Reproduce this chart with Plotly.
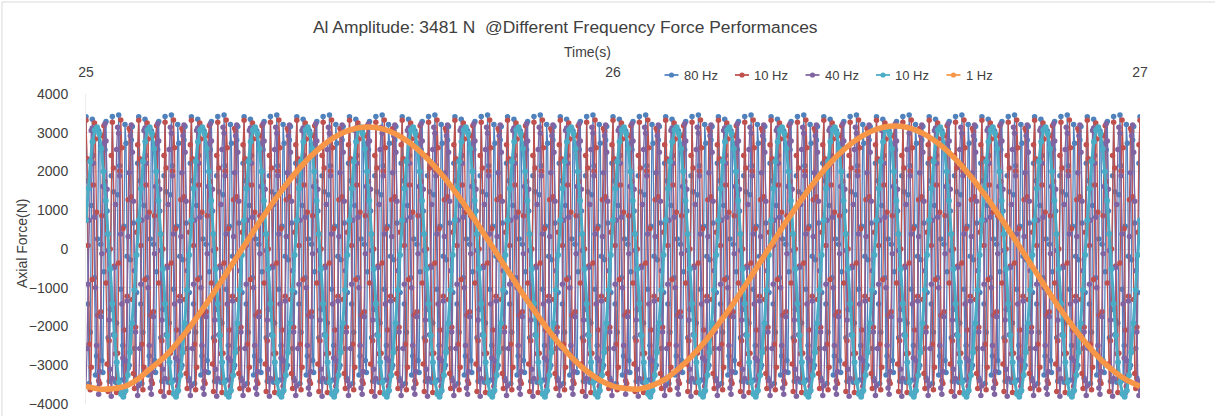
import plotly.graph_objects as go

# ---------------- data ----------------
T_START = 25.0
T_END = 27.0
X_TICKS = [25, 26, 27]
Y_TICKS = [-4000, -3000, -2000, -1000, 0, 1000, 2000, 3000, 4000]

series_names = ["80 Hz", "10 Hz", "40 Hz", "10 Hz", "1 Hz"]
series_colors = ["#4F81BD", "#C0504D", "#8064A2", "#4BACC6", "#F79646"]

# 80 Hz force samples, repeating 8-cycle block (sample step 0.002 s)
f80_dt = 0.002
f80_block = [3410, 1760, -1420, -3470, -2150, 1120, 3350, 2410, -740, -3250,
             -2760, 260, 3050, 2940, 120, -2880, -3190, -590, 2560, 3290,
             980, -2290, -3410, -1560, 1890,
             3420, 1480, -1830, -3440, -1910, 1400, 3460, 2150, -1040, -3380,
             -2490, 590, 3210, 2730, -190, -3080, -3000, -280, 2810, 3160,
             670, -2570, -3330, -1120, 2210]

# second series (red) force samples, repeating 6-cycle block (sample step 0.002 s)
red_dt = 0.002
red_block = [3320, 2330, 90, -2460, -3630, -3050, -790, 1650, 3250, 2840,
             950, -1710, -3400, -3470, -1620, 860, 2920, 3180, 1740, -880,
             -2970, -3680, -2370, 0, 2410,
             3270, 2090, -440, -2700, -3700, -2690, -360, 2010, 3330, 2610,
             520, -2090, -3540, -3280, -1220, 1270, 3110, 3040, 1350, -1300,
             -3210, -3600, -2020, 430, 2690]

# 40 Hz force samples, repeating 4-cycle block (sample step 0.002 s)
f40_dt = 0.002
f40_block = [-3530, -2570, -910, 740, 2290, 3060, 3120, 2210, 820, -1000,
             -2490, -3590, -3750, -3160, -1750, -120, 1610, 2730, 3230, 2790,
             1540, -40, -1830, -3100, -3800,
             -3340, -2210, -480, 1150, 2570, 3140, 2990, 1890, 390, -1420,
             -2810, -3720, -3660, -2890, -1340, 320, 1970, 2920, 3200, 2500,
             1230, -560, -2140, -3400, -3780]

# 10 Hz (cyan) force samples, one cycle (sample step 1/240 s)
f10_dt = 1.0 / 240.0
f10_block = [742, 1563, 2255, 2770, 3074, 3145, 2980, 2588, 1997, 1247,
             390, -517, -1412, -2233, -2925, -3440, -3744, -3815, -3650, -3258,
             -2667, -1917, -1060, -153]

# 1 Hz force samples over the whole window (sample step 0.025 s)
f1_dt = 0.025
f1_values = [-3538, -3613, -3605, -3540, -3342, -3060, -2774, -2393, -1958, -1481,
             -973, -448, 84, 607, 1109, 1579, 2003, 2373, 2678, 2912,
             3068, 3143, 3135, 3044, 2872, 2623, 2304, 1923, 1488, 1011,
             503, -22, -554, -1077, -1579, -2049, -2473, -2843, -3148, -3382,
             -3538,
             -3600, -3612, -3520, -3350, -3085, -2760, -2380, -1940, -1470,
             -960, -430, 100, 630, 1130, 1600, 2030, 2400, 2700, 2935,
             3090, 3165, 3160, 3065, 2890, 2640, 2320, 1935, 1500, 1020,
             510, -15, -545, -1070, -1575, -2045, -2470, -2845, -3150, -3385,
             -3545]


def build(block, dt):
    n = int(round((T_END - T_START) / dt)) + 1
    xs = [T_START + i * dt for i in range(n)]
    ys = [block[i % len(block)] for i in range(n)]
    return xs, ys


x80, y80 = build(f80_block, f80_dt)
xr, yr = build(red_block, red_dt)
x40, y40 = build(f40_block, f40_dt)
x10, y10 = build(f10_block, f10_dt)
x1 = [T_START + i * f1_dt for i in range(len(f1_values))]
y1 = f1_values

# ---------------- figure ----------------
fig = go.Figure()

dense = [(x80, y80), (xr, yr), (x40, y40)]
for i, (xs, ys) in enumerate(dense):
    fig.add_trace(go.Scatter(
        x=xs, y=ys, mode="lines+markers", name=series_names[i],
        line=dict(color=series_colors[i], width=1.25),
        marker=dict(color=series_colors[i], size=5.5),
    ))

fig.add_trace(go.Scatter(
    x=x10, y=y10, mode="lines+markers", name=series_names[3],
    line=dict(color=series_colors[3], width=3),
    marker=dict(color=series_colors[3], size=6),
))

fig.add_trace(go.Scatter(
    x=x1, y=y1, mode="lines", name=series_names[4],
    line=dict(color=series_colors[4], width=5.5, shape="spline", smoothing=0.6),
))

FONT = "Liberation Sans, Arial, sans-serif"
TXT = "#404040"

L, R, T, B = 86, 75, 94, 12
W, H = 1215, 416
PW = W - L - R
PH = H - T - B


def px_x(p):
    return (p - L) / PW


def px_y(p):
    return (H - B - p) / PH


annotations = [
    dict(text="Al Amplitude: 3481 N  @Different Frequency Force Performances",
         xref="paper", yref="paper", x=px_x(565), y=px_y(27),
         xanchor="center", yanchor="middle", showarrow=False,
         font=dict(family=FONT, size=17.4, color=TXT)),
    dict(text="Time(s)", xref="paper", yref="paper", x=px_x(587), y=px_y(52),
         xanchor="center", yanchor="middle", showarrow=False,
         font=dict(family=FONT, size=14, color=TXT)),
    dict(text="Axial Force(N)", xref="paper", yref="paper", x=px_x(22), y=px_y(244),
         xanchor="center", yanchor="middle", showarrow=False, textangle=-90,
         font=dict(family=FONT, size=14, color=TXT)),
]

shapes = [
    dict(type="line", xref="paper", yref="paper", x0=px_x(2), x1=px_x(W + 5),
         y0=px_y(2), y1=px_y(2), line=dict(color="#d9d9d9", width=1)),
    dict(type="line", xref="paper", yref="paper", x0=px_x(2), x1=px_x(2),
         y0=px_y(2), y1=px_y(H + 5), line=dict(color="#d9d9d9", width=1)),
]

# legend (Excel-style short line + dot keys)
LEG_Y = 75
LEG_X0 = 671.5
LEG_PITCH = 70.5
for i, (name, col) in enumerate(zip(series_names, series_colors)):
    cx = LEG_X0 + i * LEG_PITCH
    shapes.append(dict(type="line", xref="paper", yref="paper",
                       x0=px_x(cx - 7), x1=px_x(cx + 7), y0=px_y(LEG_Y), y1=px_y(LEG_Y),
                       line=dict(color=col, width=1.75)))
    shapes.append(dict(type="circle", xref="paper", yref="paper",
                       x0=px_x(cx - 2.6), x1=px_x(cx + 2.6),
                       y0=px_y(LEG_Y + 2.6), y1=px_y(LEG_Y - 2.6),
                       fillcolor=col, line=dict(color=col, width=0)))
    annotations.append(dict(text=name, xref="paper", yref="paper",
                            x=px_x(cx + 10), y=px_y(LEG_Y), xanchor="left", yanchor="middle",
                            showarrow=False, font=dict(family=FONT, size=13, color=TXT)))

fig.update_layout(
    width=W, height=H,
    margin=dict(l=L, r=R, t=T, b=B, autoexpand=False),
    paper_bgcolor="white", plot_bgcolor="white",
    font=dict(family=FONT, color=TXT, size=14),
    showlegend=False,
    xaxis=dict(
        range=[T_START, T_END], side="top", tickvals=X_TICKS,
        showgrid=False, zeroline=False, showline=False, ticks="",
        tickfont=dict(family=FONT, size=14, color=TXT),
        ticklabelstandoff=13,
    ),
    yaxis=dict(
        range=[-4000, 4000], tickvals=Y_TICKS,
        showgrid=True, gridcolor="#e3e3e3", gridwidth=1,
        zeroline=True, zerolinecolor="#e3e3e3", zerolinewidth=1,
        showline=True, linecolor="#ececec", linewidth=1, ticks="",
        tickfont=dict(family=FONT, size=14, color=TXT),
        ticklabelstandoff=14,
    ),
    annotations=annotations,
    shapes=shapes,
)

fig.write_html("out.html", config={"displayModeBar": False})
